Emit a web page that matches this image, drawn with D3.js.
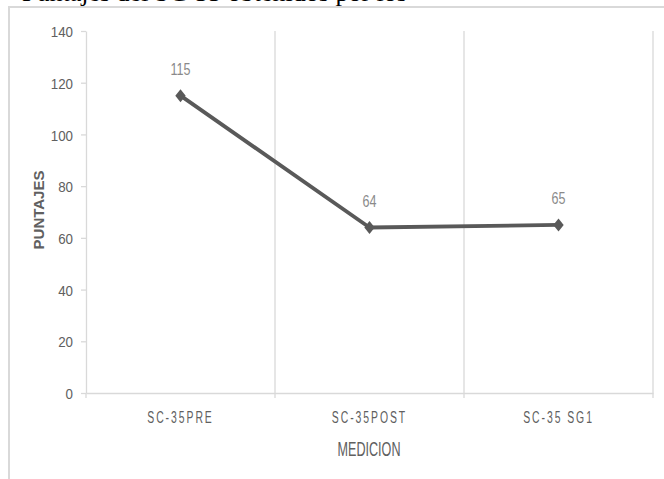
<!DOCTYPE html>
<html>
<head>
<meta charset="utf-8">
<script src="https://cdn.jsdelivr.net/npm/d3@7"></script>
<style>
  html, body { margin: 0; padding: 0; background: #fff; }
  svg { display: block; }
</style>
</head>
<body>
<svg id="chart" width="664" height="479"></svg>
<script>
// Puntajes del SC-35 por medición
const categories = ["SC-35PRE", "SC-35POST", "SC-35 SG1"];
const puntajes = [115, 64, 65];
const yTicks = [0, 20, 40, 60, 80, 100, 120, 140];
const captionText = "Puntajes del SC-35 obtenidos por los";
const xTitle = "MEDICION";
const yTitle = "PUNTAJES";

const svg = d3.select("#chart");
const plot = { left: 86, right: 653, top: 31, bottom: 393 };

const grid = "#d9d9d9";
const labelGray = "#606060";
const font = "'Liberation Sans', Arial, sans-serif";

// narrow the glyphs of a text selection horizontally
function squash(sel, k) {
  sel.each(function () {
    const w = this.getComputedTextLength();
    d3.select(this).attr("textLength", w * k).attr("lengthAdjust", "spacingAndGlyphs");
  });
}

// caption line of the document, running off the top edge
svg.append("text")
  .attr("x", 22).attr("y", 1)
  .attr("font-family", "'Liberation Serif', 'Times New Roman', serif")
  .attr("font-size", 26)
  .attr("fill", "#000")
  .text(captionText);

// chart frame
svg.append("rect")
  .attr("x", 9).attr("y", 7)
  .attr("width", 700).attr("height", 500)
  .attr("fill", "#fff")
  .attr("stroke", grid).attr("stroke-width", 2);

const x = d3.scaleBand().domain(categories).range([plot.left, plot.right]).padding(0);
const y = d3.scaleLinear().domain([0, 140]).range([plot.bottom, plot.top]);

// vertical gridlines at category boundaries
const bounds = categories.map(c => x(c) + x.bandwidth());
svg.append("g").selectAll("line").data(bounds).join("line")
  .attr("x1", d => d).attr("x2", d => d)
  .attr("y1", plot.top).attr("y2", plot.bottom)
  .attr("stroke", grid).attr("stroke-width", 1.3);

// y axis
const yAxis = svg.append("g")
  .attr("transform", `translate(${plot.left},0)`)
  .call(d3.axisLeft(y).tickValues(yTicks).tickSize(5).tickPadding(8).tickSizeOuter(0));
yAxis.select(".domain").attr("stroke", grid).attr("stroke-width", 1.3);
yAxis.selectAll(".tick line").attr("stroke", grid).attr("stroke-width", 1.3);
yAxis.selectAll(".tick text")
  .attr("font-family", font).attr("font-size", 15.5)
  .attr("fill", labelGray).attr("dy", "0.36em")
  .call(squash, 0.86);

// x axis
const xAxis = svg.append("g")
  .attr("transform", `translate(0,${plot.bottom})`)
  .call(d3.axisBottom(x).tickSize(0).tickPadding(30).tickSizeOuter(0));
xAxis.select(".domain").attr("stroke", grid).attr("stroke-width", 1.5);
xAxis.selectAll(".tick text")
  .attr("font-family", font).attr("font-size", 16)
  .attr("fill", labelGray).attr("dy", 0)
  .attr("letter-spacing", "3px")
  .call(squash, 0.65);
// tick marks at category boundaries
svg.append("g").selectAll("line").data([plot.left].concat(bounds)).join("line")
  .attr("x1", d => d).attr("x2", d => d)
  .attr("y1", plot.bottom).attr("y2", plot.bottom + 5)
  .attr("stroke", grid).attr("stroke-width", 1.3);

// axis titles
svg.append("text")
  .attr("x", 369).attr("y", 456)
  .attr("text-anchor", "middle")
  .attr("font-family", font).attr("font-size", 21)
  .attr("fill", labelGray)
  .text(xTitle)
  .call(squash, 0.6);

svg.append("text")
  .attr("transform", "translate(44,210) rotate(-90)")
  .attr("text-anchor", "middle")
  .attr("font-family", font).attr("font-size", 15).attr("font-weight", "bold")
  .attr("fill", labelGray)
  .text(yTitle);

// series line
const pts = categories.map((c, i) => ({ c, v: puntajes[i] }));
const cx = d => x(d.c) + x.bandwidth() / 2;
svg.append("path")
  .datum(pts)
  .attr("fill", "none")
  .attr("stroke", "#595959")
  .attr("stroke-width", 3.8)
  .attr("stroke-linejoin", "round")
  .attr("d", d3.line().x(cx).y(d => y(d.v)));

// diamond markers
svg.append("g").selectAll("path").data(pts).join("path")
  .attr("transform", d => `translate(${cx(d)},${y(d.v)})`)
  .attr("d", "M0,-6.5L5.2,0L0,6.5L-5.2,0Z")
  .attr("fill", "#595959");

// value labels
svg.append("g").selectAll("text").data(pts).join("text")
  .attr("x", cx).attr("y", d => y(d.v) - 21)
  .attr("text-anchor", "middle")
  .attr("font-family", font).attr("font-size", 16.5)
  .attr("fill", "#8a8a8a")
  .text(d => d.v)
  .call(squash, 0.76);
</script>
</body>
</html>
